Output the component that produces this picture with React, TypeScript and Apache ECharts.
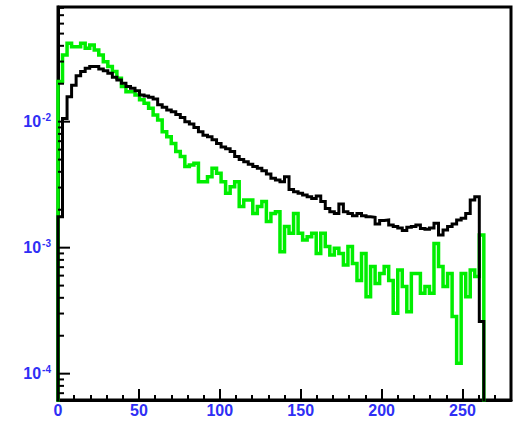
import React, { useEffect, useRef } from "react";
import * as echarts from "echarts";

// Histogram bin width (x units) and the empty-bin floor value
const BIN_WIDTH = 2.8;
const FLOOR = 1e-6;

// x axis
const X_MIN = 0;
const X_MAX = 280;
const X_MAJOR = 50;
const X_MINOR = 10;

// y axis (log)
const Y_MIN = 6.18e-5;
const Y_MAX = 0.0813;
const Y_MAJOR = [1e-4, 1e-3, 1e-2];
const Y_MINOR = [
  7e-5, 8e-5, 9e-5,
  2e-4, 3e-4, 4e-4, 5e-4, 6e-4, 7e-4, 8e-4, 9e-4,
  2e-3, 3e-3, 4e-3, 5e-3, 6e-3, 7e-3, 8e-3, 9e-3,
  2e-2, 3e-2, 4e-2, 5e-2, 6e-2, 7e-2, 8e-2,
];

// black histogram (bin contents, bins of BIN_WIDTH starting at 0)
const blackValues = [
  1.76e-3, 1.06e-2, 1.58e-2, 1.95e-2, 2.31e-2, 2.5e-2, 2.65e-2, 2.74e-2, 2.74e-2, 2.62e-2,
  2.54e-2, 2.42e-2, 2.25e-2, 2.14e-2, 2.02e-2, 1.9e-2, 1.84e-2, 1.76e-2, 1.63e-2, 1.6e-2,
  1.56e-2, 1.51e-2, 1.36e-2, 1.3e-2, 1.24e-2, 1.2e-2, 1.14e-2, 1.08e-2, 1.0e-2, 9.6e-3,
  9.0e-3, 8.3e-3, 7.8e-3, 7.6e-3, 7.2e-3, 6.7e-3, 6.3e-3, 6.1e-3, 5.8e-3, 5.3e-3,
  5.0e-3, 4.8e-3, 4.6e-3, 4.4e-3, 4.27e-3, 4.08e-3, 3.84e-3, 3.55e-3, 3.44e-3, 3.34e-3,
  3.66e-3, 2.9e-3, 2.78e-3, 2.7e-3, 2.62e-3, 2.54e-3, 2.46e-3, 2.57e-3, 2.32e-3, 2.05e-3,
  1.93e-3, 1.87e-3, 2.22e-3, 1.93e-3, 1.87e-3, 1.79e-3, 1.87e-3, 1.79e-3, 1.76e-3, 1.74e-3,
  1.54e-3, 1.64e-3, 1.66e-3, 1.51e-3, 1.47e-3, 1.43e-3, 1.37e-3, 1.45e-3, 1.47e-3, 1.51e-3,
  1.42e-3, 1.4e-3, 1.43e-3, 1.56e-3, 1.26e-3, 1.38e-3, 1.47e-3, 1.54e-3, 1.66e-3, 1.71e-3,
  1.87e-3, 2.39e-3, 2.54e-3, 2.59e-4,
];

// green histogram
const greenValues = [
  2.08e-2, 3.38e-2, 4.19e-2, 3.94e-2, 3.94e-2, 4.19e-2, 3.82e-2, 4.06e-2, 3.71e-2, 3.38e-2,
  2.99e-2, 2.74e-2, 2.5e-2, 2.21e-2, 1.9e-2, 1.73e-2, 1.73e-2, 1.63e-2, 1.49e-2, 1.4e-2,
  1.28e-2, 1.13e-2, 1.03e-2, 8.3e-3, 7.6e-3, 6.7e-3, 5.8e-3, 5.3e-3, 4.4e-3, 4.53e-3,
  4.68e-3, 3.34e-3, 3.34e-3, 3.66e-3, 4.27e-3, 3.89e-3, 3.34e-3, 2.7e-3, 3.05e-3, 3.34e-3,
  2.12e-3, 2.39e-3, 2.39e-3, 1.87e-3, 2.12e-3, 2.32e-3, 1.61e-3, 1.87e-3, 1.93e-3, 9.3e-4,
  1.47e-3, 1.3e-3, 1.87e-3, 1.3e-3, 1.15e-3, 1.22e-3, 1.3e-3, 9.0e-4, 1.3e-3, 1.02e-3,
  8.75e-4, 9.9e-4, 9.0e-4, 7.3e-4, 1.02e-3, 7.5e-4, 5.5e-4, 9.0e-4, 4.08e-4, 7.1e-4,
  5.2e-4, 6.25e-4, 7.1e-4, 5.5e-4, 3.01e-4, 6.65e-4, 4.91e-4, 3.1e-4, 6.25e-4, 6.25e-4,
  4.34e-4, 4.91e-4, 4.34e-4, 1.08e-3, 7.1e-4, 4.91e-4, 6.25e-4, 2.84e-4, 1.21e-4, 6.25e-4,
  4.08e-4, 6.65e-4, 5.9e-4, 1.26e-3,
];

const LABEL_BLUE = "#2f2ff5";
const FONT = "'Liberation Sans', Arial, sans-serif";

function toSteps(values: number[]): number[][] {
  const pts: number[][] = [[0, FLOOR]];
  values.forEach((v, i) => pts.push([i * BIN_WIDTH, v]));
  pts.push([values.length * BIN_WIDTH, FLOOR]);
  return pts;
}

export default function App() {
  const ref = useRef<HTMLDivElement>(null);

  useEffect(() => {
    if (!ref.current) return;
    const chart = echarts.init(ref.current, null, { renderer: "svg" });
    const grid = { left: 58, right: 3, top: 7, bottom: 22 };
    chart.setOption({
      animation: false,
      backgroundColor: "#ffffff",
      grid: {
        ...grid,
        show: true,
        borderColor: "#000",
        borderWidth: 3,
        backgroundColor: "transparent",
      },
      xAxis: [
        {
          type: "value",
          min: X_MIN,
          max: X_MAX,
          interval: X_MAJOR,
          axisLine: { show: true, onZero: false, lineStyle: { color: "#000", width: 3 } },
          axisTick: { show: true, inside: true, length: 11, lineStyle: { color: "#000", width: 2 } },
          axisLabel: {
            show: true,
            color: LABEL_BLUE,
            fontSize: 16,
            fontWeight: "bold",
            fontFamily: FONT,
            margin: 2,
            showMaxLabel: false,
          },
          splitLine: { show: false },
        },
        {
          type: "value",
          min: X_MIN,
          max: X_MAX,
          interval: X_MINOR,
          position: "bottom",
          axisLine: { show: false },
          axisTick: { show: true, inside: true, length: 5, lineStyle: { color: "#000", width: 2 } },
          axisLabel: { show: false },
          splitLine: { show: false },
        },
      ],
      yAxis: {
        type: "log",
        logBase: 10,
        min: Y_MIN,
        max: Y_MAX,
        axisLine: { show: true, onZero: false, lineStyle: { color: "#000", width: 3 } },
        axisTick: { show: false },
        axisLabel: { show: false },
        splitLine: { show: false },
        minorTick: { show: false },
      },
      series: [
        {
          type: "line",
          name: "green",
          xAxisIndex: 0,
          data: toSteps(greenValues),
          step: "end",
          showSymbol: false,
          symbol: "none",
          clip: true,
          lineStyle: { color: "#00ee00", width: 3.5, cap: "butt", join: "miter" },
          z: 2,
        },
        {
          type: "line",
          name: "black",
          xAxisIndex: 0,
          data: toSteps(blackValues),
          step: "end",
          showSymbol: false,
          symbol: "none",
          clip: true,
          lineStyle: { color: "#000000", width: 3, cap: "butt", join: "miter" },
          z: 3,
        },
      ],
    });

    const x0 = chart.convertToPixel({ xAxisIndex: 0 }, X_MIN) as number;
    const graphics: any[] = [];
    Y_MINOR.forEach((v) => {
      const y = chart.convertToPixel({ yAxisIndex: 0 }, v) as number;
      graphics.push({
        type: "line",
        shape: { x1: x0, y1: y, x2: x0 + 6, y2: y },
        style: { stroke: "#000", lineWidth: 2 },
        z: 10,
      });
    });
    Y_MAJOR.forEach((v) => {
      const y = chart.convertToPixel({ yAxisIndex: 0 }, v) as number;
      const exp = Math.round(Math.log10(v));
      graphics.push({
        type: "line",
        shape: { x1: x0, y1: y, x2: x0 + 12, y2: y },
        style: { stroke: "#000", lineWidth: 2 },
        z: 10,
      });
      graphics.push({
        type: "text",
        x: 51,
        y: y,
        style: {
          text: `{b|10}{s|${exp}}`,
          align: "right",
          verticalAlign: "middle",
          rich: {
            b: { fontSize: 16, fontWeight: "bold", fontFamily: FONT, fill: LABEL_BLUE, color: LABEL_BLUE },
            s: {
              fontSize: 10,
              fontWeight: "bold",
              fontFamily: FONT,
              fill: LABEL_BLUE,
              color: LABEL_BLUE,
              padding: [0, 0, 8, 1],
            },
          },
        },
        z: 10,
      });
    });
    chart.setOption({ graphic: graphics });

    return () => chart.dispose();
  }, []);

  return (
    <div
      ref={ref}
      style={{ position: "fixed", left: 0, top: 0, width: 514, height: 422, background: "#fff" }}
    />
  );
}
